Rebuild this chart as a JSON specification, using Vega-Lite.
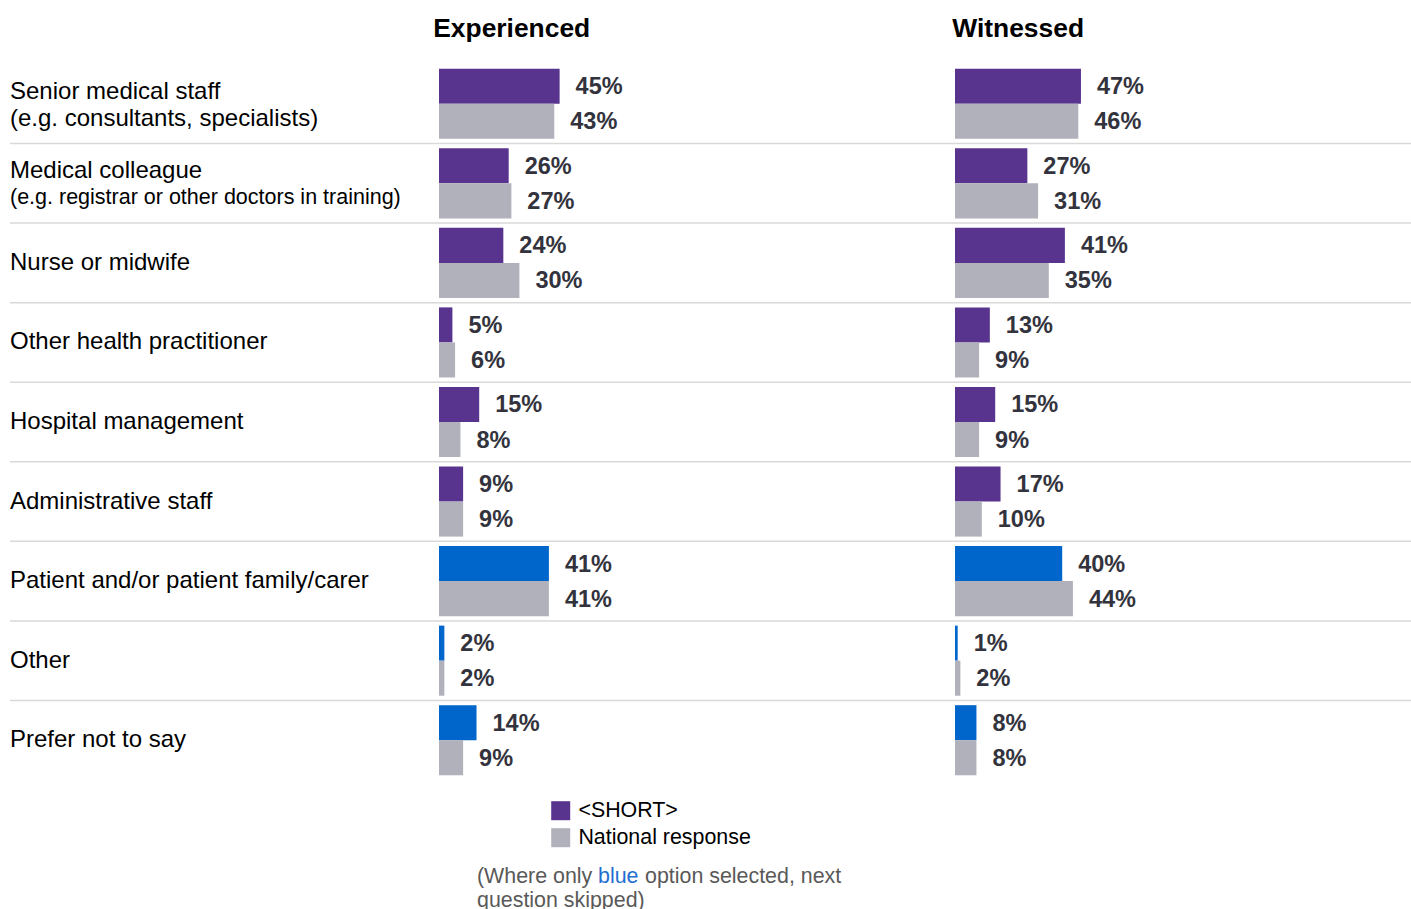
{
  "$schema": "https://vega.github.io/schema/vega-lite/v6.json",
  "padding": {"left": 9, "top": 15, "right": 0, "bottom": 0},
  "background": "white",
  "config": {"view": {"stroke": null}, "font": "Liberation Sans", "text": {"font": "Liberation Sans"}, "title": {"font": "Liberation Sans"}},
  "datasets": {
    "cats": [
      {"cat": "Senior medical staff", "sub": "(e.g. consultants, specialists)"},
      {"cat": "Medical colleague", "sub": "(e.g. registrar or other doctors in training)"},
      {"cat": "Nurse or midwife"},
      {"cat": "Other health practitioner"},
      {"cat": "Hospital management"},
      {"cat": "Administrative staff"},
      {"cat": "Patient and/or patient family/carer"},
      {"cat": "Other"},
      {"cat": "Prefer not to say"}
    ],
    "bars": [
      {"cat": "Senior medical staff", "panel": "Experienced", "series": "<SHORT>", "value": 0.45, "skip": false},
      {"cat": "Senior medical staff", "panel": "Experienced", "series": "National response", "value": 0.43, "skip": false},
      {"cat": "Medical colleague", "panel": "Experienced", "series": "<SHORT>", "value": 0.26, "skip": false},
      {"cat": "Medical colleague", "panel": "Experienced", "series": "National response", "value": 0.27, "skip": false},
      {"cat": "Nurse or midwife", "panel": "Experienced", "series": "<SHORT>", "value": 0.24, "skip": false},
      {"cat": "Nurse or midwife", "panel": "Experienced", "series": "National response", "value": 0.30, "skip": false},
      {"cat": "Other health practitioner", "panel": "Experienced", "series": "<SHORT>", "value": 0.05, "skip": false},
      {"cat": "Other health practitioner", "panel": "Experienced", "series": "National response", "value": 0.06, "skip": false},
      {"cat": "Hospital management", "panel": "Experienced", "series": "<SHORT>", "value": 0.15, "skip": false},
      {"cat": "Hospital management", "panel": "Experienced", "series": "National response", "value": 0.08, "skip": false},
      {"cat": "Administrative staff", "panel": "Experienced", "series": "<SHORT>", "value": 0.09, "skip": false},
      {"cat": "Administrative staff", "panel": "Experienced", "series": "National response", "value": 0.09, "skip": false},
      {"cat": "Patient and/or patient family/carer", "panel": "Experienced", "series": "<SHORT>", "value": 0.41, "skip": true},
      {"cat": "Patient and/or patient family/carer", "panel": "Experienced", "series": "National response", "value": 0.41, "skip": true},
      {"cat": "Other", "panel": "Experienced", "series": "<SHORT>", "value": 0.02, "skip": true},
      {"cat": "Other", "panel": "Experienced", "series": "National response", "value": 0.02, "skip": true},
      {"cat": "Prefer not to say", "panel": "Experienced", "series": "<SHORT>", "value": 0.14, "skip": true},
      {"cat": "Prefer not to say", "panel": "Experienced", "series": "National response", "value": 0.09, "skip": true},
      {"cat": "Senior medical staff", "panel": "Witnessed", "series": "<SHORT>", "value": 0.47, "skip": false},
      {"cat": "Senior medical staff", "panel": "Witnessed", "series": "National response", "value": 0.46, "skip": false},
      {"cat": "Medical colleague", "panel": "Witnessed", "series": "<SHORT>", "value": 0.27, "skip": false},
      {"cat": "Medical colleague", "panel": "Witnessed", "series": "National response", "value": 0.31, "skip": false},
      {"cat": "Nurse or midwife", "panel": "Witnessed", "series": "<SHORT>", "value": 0.41, "skip": false},
      {"cat": "Nurse or midwife", "panel": "Witnessed", "series": "National response", "value": 0.35, "skip": false},
      {"cat": "Other health practitioner", "panel": "Witnessed", "series": "<SHORT>", "value": 0.13, "skip": false},
      {"cat": "Other health practitioner", "panel": "Witnessed", "series": "National response", "value": 0.09, "skip": false},
      {"cat": "Hospital management", "panel": "Witnessed", "series": "<SHORT>", "value": 0.15, "skip": false},
      {"cat": "Hospital management", "panel": "Witnessed", "series": "National response", "value": 0.09, "skip": false},
      {"cat": "Administrative staff", "panel": "Witnessed", "series": "<SHORT>", "value": 0.17, "skip": false},
      {"cat": "Administrative staff", "panel": "Witnessed", "series": "National response", "value": 0.10, "skip": false},
      {"cat": "Patient and/or patient family/carer", "panel": "Witnessed", "series": "<SHORT>", "value": 0.40, "skip": true},
      {"cat": "Patient and/or patient family/carer", "panel": "Witnessed", "series": "National response", "value": 0.44, "skip": true},
      {"cat": "Other", "panel": "Witnessed", "series": "<SHORT>", "value": 0.01, "skip": true},
      {"cat": "Other", "panel": "Witnessed", "series": "National response", "value": 0.02, "skip": true},
      {"cat": "Prefer not to say", "panel": "Witnessed", "series": "<SHORT>", "value": 0.08, "skip": true},
      {"cat": "Prefer not to say", "panel": "Witnessed", "series": "National response", "value": 0.08, "skip": true}
    ]
  },
  "spacing": 0,
  "bounds": "flush",
  "resolve": {"scale": {"color": "independent", "x": "independent"}, "legend": {"color": "independent"}},
  "hconcat": [
    {
      "width": 429,
      "height": 716,
      "data": {"name": "cats"},
      "layer": [
        {
          "transform": [{"filter": "datum.cat !== 'Senior medical staff'"}],
          "mark": {"type": "rule", "color": "#D9D9D9", "strokeWidth": 1.5},
          "encoding": {"y": {"field": "cat", "type": "nominal", "bandPosition": 0, "axis": null,
            "scale": {"domain": ["Senior medical staff", "Medical colleague", "Nurse or midwife", "Other health practitioner", "Hospital management", "Administrative staff", "Patient and/or patient family/carer", "Other", "Prefer not to say"], "paddingInner": 0, "paddingOuter": 0}}}
        },
        {
          "transform": [{"filter": "!datum.sub"}],
          "mark": {"type": "text", "align": "left", "baseline": "middle", "x": 0, "fontSize": 24, "color": "#000000"},
          "encoding": {"y": {"field": "cat", "type": "nominal", "axis": null}, "text": {"field": "cat"}}
        },
        {
          "transform": [{"filter": "datum.sub"}],
          "mark": {"type": "text", "align": "left", "baseline": "middle", "x": 0, "dy": -12, "fontSize": 24, "color": "#000000"},
          "encoding": {"y": {"field": "cat", "type": "nominal", "axis": null}, "text": {"field": "cat"}}
        },
        {
          "transform": [{"filter": "datum.sub"}],
          "mark": {"type": "text", "align": "left", "baseline": "middle", "x": 0, "dy": 15, "color": "#000000"},
          "encoding": {"y": {"field": "cat", "type": "nominal", "axis": null}, "text": {"field": "sub"},
            "size": {"condition": {"test": "length(datum.sub) > 35", "value": 21.5}, "value": 24}}
        }
      ]
    },
    {
      "width": 516,
      "height": 716,
      "title": {"text": "Experienced", "anchor": "start", "dx": -5, "fontSize": 26.4, "fontWeight": "bold", "color": "#000000", "baseline": "alphabetic", "offset": 1},
      "layer": [
        {
          "data": {"name": "cats"},
          "transform": [{"filter": "datum.cat !== 'Senior medical staff'"}],
          "mark": {"type": "rule", "color": "#D9D9D9", "strokeWidth": 1.5},
          "encoding": {"y": {"field": "cat", "type": "nominal", "bandPosition": 0, "axis": null,
            "scale": {"domain": ["Senior medical staff", "Medical colleague", "Nurse or midwife", "Other health practitioner", "Hospital management", "Administrative staff", "Patient and/or patient family/carer", "Other", "Prefer not to say"], "paddingInner": 0, "paddingOuter": 0}}}
        },
        {
          "data": {"name": "bars"},
          "transform": [{"filter": "datum.panel === 'Experienced'"}],
          "mark": {"type": "bar"},
          "encoding": {
            "y": {"field": "cat", "type": "nominal", "axis": null},
            "yOffset": {"field": "series", "type": "nominal", "scale": {"domain": ["<SHORT>", "National response"], "paddingOuter": 0.135, "paddingInner": 0}},
            "x": {"field": "value", "type": "quantitative", "scale": {"domain": [0, 1.925], "nice": false, "zero": true}, "axis": null},
            "color": {"field": "series", "type": "nominal",
              "scale": {"domain": ["<SHORT>", "National response"], "range": ["#58348F", "#B1B1BC"]},
              "condition": {"test": "datum.skip && datum.series === '<SHORT>'", "value": "#0066CC"},
              "legend": {"orient": "none", "legendX": 111, "legendY": 736, "title": null, "symbolType": "square", "symbolSize": 361, "symbolStrokeWidth": 0, "symbolOpacity": 1, "labelFontSize": 21.4, "labelColor": "#000000", "labelFont": "Liberation Sans", "labelLimit": 400, "rowPadding": 4, "labelOffset": 7, "padding": 0}}
          }
        },
        {
          "data": {"name": "bars"},
          "transform": [{"filter": "datum.panel === 'Experienced'"}],
          "mark": {"type": "text", "align": "left", "baseline": "middle", "dx": 16, "dy": 1, "fontSize": 23.5, "fontWeight": "bold", "color": "#33333D"},
          "encoding": {
            "y": {"field": "cat", "type": "nominal", "axis": null},
            "yOffset": {"field": "series", "type": "nominal"},
            "x": {"field": "value", "type": "quantitative"},
            "text": {"field": "value", "type": "quantitative", "format": ".0%"}
          }
        },
        {
          "data": {"values": [{}]},
          "mark": {"type": "text", "align": "left", "baseline": "middle", "x": 38, "y": 813, "fontSize": 21.4, "color": "#595959", "text": "(Where only"},
          "encoding": {}
        },
        {
          "data": {"values": [{}]},
          "mark": {"type": "text", "align": "left", "baseline": "middle", "x": 159, "y": 813, "fontSize": 21.4, "color": "#1F6FD1", "text": "blue"},
          "encoding": {}
        },
        {
          "data": {"values": [{}]},
          "mark": {"type": "text", "align": "left", "baseline": "middle", "x": 206, "y": 813, "fontSize": 21.4, "color": "#595959", "text": "option selected, next"},
          "encoding": {}
        },
        {
          "data": {"values": [{}]},
          "mark": {"type": "text", "align": "left", "baseline": "middle", "x": 38, "y": 837, "fontSize": 21.4, "color": "#595959", "text": "question skipped)"},
          "encoding": {}
        }
      ]
    },
    {
      "width": 456,
      "height": 716,
      "title": {"text": "Witnessed", "anchor": "start", "dx": -2, "fontSize": 26.4, "fontWeight": "bold", "color": "#000000", "baseline": "alphabetic", "offset": 1},
      "layer": [
        {
          "data": {"name": "cats"},
          "transform": [{"filter": "datum.cat !== 'Senior medical staff'"}],
          "mark": {"type": "rule", "color": "#D9D9D9", "strokeWidth": 1.5},
          "encoding": {"y": {"field": "cat", "type": "nominal", "bandPosition": 0, "axis": null,
            "scale": {"domain": ["Senior medical staff", "Medical colleague", "Nurse or midwife", "Other health practitioner", "Hospital management", "Administrative staff", "Patient and/or patient family/carer", "Other", "Prefer not to say"], "paddingInner": 0, "paddingOuter": 0}}}
        },
        {
          "data": {"name": "bars"},
          "transform": [{"filter": "datum.panel === 'Witnessed'"}],
          "mark": {"type": "bar"},
          "encoding": {
            "y": {"field": "cat", "type": "nominal", "axis": null},
            "yOffset": {"field": "series", "type": "nominal", "scale": {"domain": ["<SHORT>", "National response"], "paddingOuter": 0.135, "paddingInner": 0}},
            "x": {"field": "value", "type": "quantitative", "scale": {"domain": [0, 1.7015], "nice": false, "zero": true}, "axis": null},
            "color": {"field": "series", "type": "nominal",
              "scale": {"domain": ["<SHORT>", "National response"], "range": ["#58348F", "#B1B1BC"]},
              "condition": {"test": "datum.skip && datum.series === '<SHORT>'", "value": "#0066CC"},
              "legend": null}
          }
        },
        {
          "data": {"name": "bars"},
          "transform": [{"filter": "datum.panel === 'Witnessed'"}],
          "mark": {"type": "text", "align": "left", "baseline": "middle", "dx": 16, "dy": 1, "fontSize": 23.5, "fontWeight": "bold", "color": "#33333D"},
          "encoding": {
            "y": {"field": "cat", "type": "nominal", "axis": null},
            "yOffset": {"field": "series", "type": "nominal"},
            "x": {"field": "value", "type": "quantitative"},
            "text": {"field": "value", "type": "quantitative", "format": ".0%"}
          }
        }
      ]
    }
  ]
}
